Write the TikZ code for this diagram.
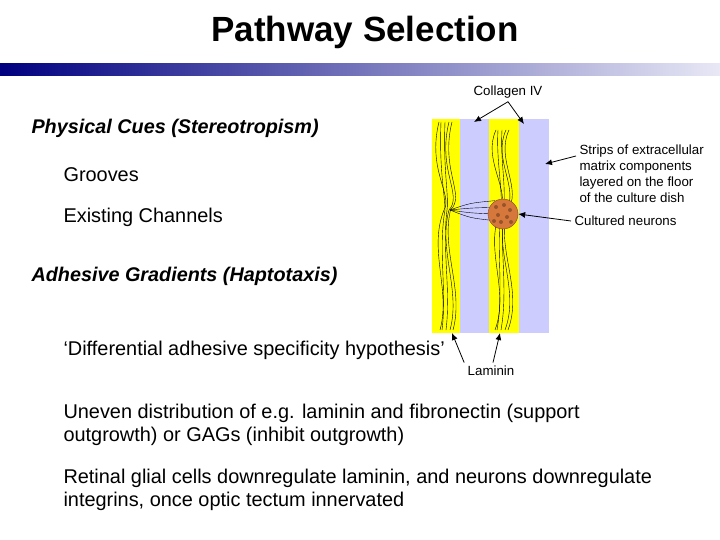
\documentclass[tikz,border=0pt]{standalone}
\usepackage{fontspec}
\setmainfont{Liberation Sans}
\usetikzlibrary{arrows.meta,positioning}
\definecolor{barnavy}{RGB}{0,0,128}
\definecolor{barlight}{RGB}{232,232,246}
\definecolor{lam}{RGB}{255,255,0}
\definecolor{col}{RGB}{204,204,255}
\definecolor{cell}{RGB}{214,120,60}
\tikzset{heading/.style={anchor=west, font=\fontsize{19.8}{23}\selectfont\bfseries\itshape}}
\tikzset{body/.style={anchor=west, align=left, font=\fontsize{19.9}{23.5}\selectfont}}
\tikzset{small/.style={align=left, font=\fontsize{13.3}{16}\selectfont}}
\tikzset{arrow/.style={-{Latex[length=7pt,width=6pt]}, thick}}
\begin{document}
\begin{tikzpicture}[x=1pt,y=-1pt]
\useasboundingbox (0,0) rectangle (720,540);

% Titel und Balken
\node[font=\fontsize{35}{40}\selectfont\bfseries] (title) at (365,32) {Pathway Selection};
\shade[left color=barnavy, right color=barlight] (0,64) rectangle (720,76);

% Textblock links
\node[heading] (phys) at (28,128) {Physical Cues (Stereotropism)};
\node[body] (groove) at (60,175) {Grooves};
\node[body] (chan) at (60,217) {Existing Channels};
\node[heading] (adh) at (28,276) {Adhesive Gradients (Haptotaxis)};
\node[body] (hyp) at (60,350) {‘Differential adhesive specificity hypothesis’};
\node[body] (uneven) at (60,425) {Uneven distribution of e.g. laminin and fibronectin (support\\outgrowth) or GAGs (inhibit outgrowth)};
\node[body] (retina) at (60,490) {Retinal glial cells downregulate laminin, and neurons downregulate\\integrins, once optic tectum innervated};

% Streifen
\fill[lam] (432,119) rectangle (460,333);
\fill[col] (460,119) rectangle (489,333);
\fill[lam] (489,119) rectangle (519,333);
\fill[col] (519,119) rectangle (549,333);
\coordinate (lamA) at (452,333);
\coordinate (lamB) at (500,333);
\coordinate (colA) at (474,122);
\coordinate (colB) at (524,124);
\coordinate (colC) at (545,164);

% Neuriten
\foreach \dx/\s in {0/1,4/-1,-4/1,7/-1,-6/-1}{
  \draw[thin] ({445+\dx},122) .. controls ({438+\dx+5*\s},170) and ({454+\dx-5*\s},195) .. ({447+\dx/2},210)
    .. controls ({438+\dx+4*\s},250) and ({454+\dx-3*\s},290) .. ({446+\dx},330);
  \draw[thin] ({502+\dx},130) .. controls ({494+\dx+6*\s},160) and ({512+\dx-5*\s},190) .. ({503+\dx/2},212)
    .. controls ({495+\dx+5*\s},250) and ({512+\dx-4*\s},290) .. ({501+\dx},330);
}
\foreach \y in {203,208,213,218}{
  \draw[thin] (450,210) .. controls (470,\y) .. ({495},{\y+(\y-210)/3});
}

% Neuronenhaufen
\node[circle, fill=cell, draw=cell!60!black, minimum size=30pt, inner sep=0pt] (cluster) at (503,214) {};
\foreach \px/\py in {496/207,504/205,510/210,498/215,507/217,501/222,511/222,494/221}{
  \fill[cell!70!black] (\px,\py) circle (2pt);
}

% Beschriftungen
\node[small] (coll) at (508,92) {Collagen IV};
\node[small, anchor=west] (strips) at (576,174) {Strips of extracellular\\matrix components\\layered on the floor\\of the culture dish};
\node[small, anchor=west] (neur) at (571,221) {Cultured neurons};
\node[small] (lamin) at (491,371) {Laminin};

% Pfeile
\draw[arrow] (coll.south) -- (colA);
\draw[arrow] (coll.south) -- (colB);
\draw[arrow] (strips.west |- 0,156) -- (colC);
\draw[arrow] (neur.west) -- (cluster.east);
\draw[arrow] (lamin.north west) -- (lamA);
\draw[arrow] ([xshift=2pt]lamin.north) -- (lamB);
\end{tikzpicture}
\end{document}
